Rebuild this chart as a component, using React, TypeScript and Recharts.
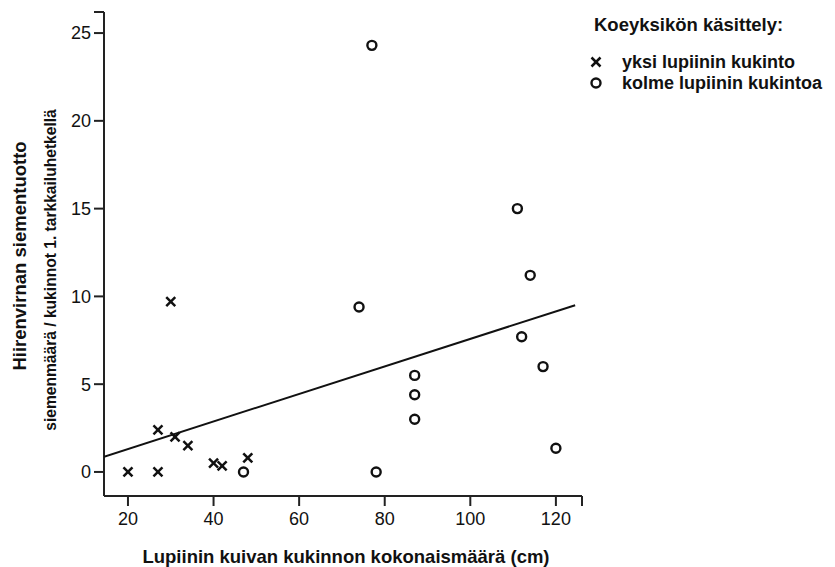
import React from 'react';
import { ScatterChart, Scatter, XAxis, YAxis } from 'recharts';

// yksi lupiinin kukinto (crosses)
const singleX = [20, 27, 27, 30, 31, 34, 40, 42, 48];
const singleY = [0, 0, 2.4, 9.7, 2.0, 1.5, 0.5, 0.35, 0.8];

// kolme lupiinin kukintoa (circles)
const tripleX = [47, 74, 77, 78, 87, 87, 87, 111, 112, 114, 117, 120];
const tripleY = [0, 9.4, 24.3, 0, 5.5, 4.4, 3.0, 15.0, 7.7, 11.2, 6.0, 1.35];

// fitted line end points
const fitX = [14.4, 124.5];
const fitY = [0.87, 9.5];

const xTicks = [20, 40, 60, 80, 100, 120, 126.1];
const yTicks = [0, 5, 10, 15, 20, 25, 26.2];

const toPoints = (xs: number[], ys: number[]) => xs.map((x, i) => ({ x, y: ys[i] }));

const singleData = toPoints(singleX, singleY);
const tripleData = toPoints(tripleX, tripleY);
const fitData = toPoints(fitX, fitY);

const FONT = '"Liberation Sans", Arial, sans-serif';
const INK = '#111';

const CrossShape = (props: any) => {
  const { cx, cy } = props;
  const r = 4.5;
  return (
    <g stroke={INK} strokeWidth={2.5}>
      <line x1={cx - r} y1={cy - r} x2={cx + r} y2={cy + r} />
      <line x1={cx - r} y1={cy + r} x2={cx + r} y2={cy - r} />
    </g>
  );
};

const RingShape = (props: any) => {
  const { cx, cy } = props;
  return <circle cx={cx} cy={cy} r={4.5} fill="none" stroke={INK} strokeWidth={2.4} />;
};

const hideEnd = (max: number) => (v: number) => (v === max ? '' : String(v));

const App: React.FC = () => {
  return (
    <div style={{ position: 'absolute', left: 0, top: 0, width: 835, height: 567, background: '#fff' }}>
      <ScatterChart
        width={835}
        height={567}
        margin={{ top: 12, right: 253, bottom: 31, left: 44 }}
      >
        <XAxis
          type="number"
          dataKey="x"
          domain={[14.4, 126.1]}
          ticks={xTicks}
          tickFormatter={hideEnd(126.1)}
          allowDataOverflow
          height={40}
          tickSize={10}
          tickMargin={6}
          stroke="#222"
          strokeWidth={2}
          tick={{ fill: INK, fontSize: 18, fontFamily: FONT }}
        />
        <YAxis
          type="number"
          dataKey="y"
          domain={[-1.37, 26.2]}
          ticks={yTicks}
          tickFormatter={hideEnd(26.2)}
          allowDataOverflow
          width={60}
          tickSize={10}
          tickMargin={3}
          stroke="#222"
          strokeWidth={2}
          tick={{ fill: INK, fontSize: 18, fontFamily: FONT }}
        />
        <Scatter
          data={fitData}
          line={{ stroke: INK, strokeWidth: 2 }}
          shape={() => <g />}
          legendType="none"
          isAnimationActive={false}
        />
        <Scatter data={singleData} shape={CrossShape} isAnimationActive={false} />
        <Scatter data={tripleData} shape={RingShape} isAnimationActive={false} />
      </ScatterChart>

      <svg
        width={835}
        height={567}
        style={{ position: 'absolute', left: 0, top: 0, pointerEvents: 'none' }}
        fontFamily={FONT}
        fontWeight="bold"
        fill={INK}
      >
        <text x={346} y={563} fontSize={18.5} textAnchor="middle">
          Lupiinin kuivan kukinnon kokonaismäärä (cm)
        </text>
        <text transform="translate(26,256) rotate(-90)" fontSize={18.5} textAnchor="middle">
          Hiirenvirnan siementuotto
        </text>
        <text transform="translate(56,270) rotate(-90)" fontSize={15.6} textAnchor="middle">
          siemenmäärä / kukinnot 1. tarkkailuhetkellä
        </text>

        <text x={594} y={31} fontSize={18.5}>Koeyksikön käsittely:</text>
        <CrossShape cx={596} cy={62} />
        <text x={622} y={68} fontSize={18}>yksi lupiinin kukinto</text>
        <RingShape cx={596} cy={83} />
        <text x={622} y={89} fontSize={18}>kolme lupiinin kukintoa</text>
      </svg>
    </div>
  );
};

export default App;
